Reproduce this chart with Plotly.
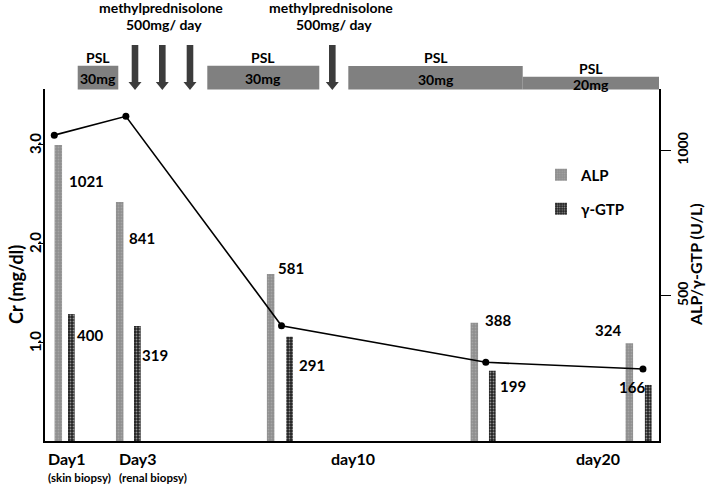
import plotly.graph_objects as go

# ---------------- data ----------------
# sample times on the schematic time axis (days)
alp_x = [1.0, 2.98, 7.85, 14.42, 19.42]
ggt_x = [1.42, 3.55, 8.46, 15.0, 20.03]
cr_x = [0.87, 3.18, 8.2, 14.79, 19.86]
# bar heights as drawn (U/L)
alp_bar = [1019, 823, 575, 407, 337]
ggt_bar = [437, 396, 359, 242, 193]
# printed values
alp_text = [1021, 841, 581, 388, 324]
ggt_text = [400, 319, 291, 199, 166]
# creatinine (mg/dl)
cr = [3.09, 3.28, 1.165, 0.795, 0.727]

x_labels = ["Day1", "Day3", "day10", "day20"]
x_sub = ["(skin biopsy)", "(renal biopsy)"]
cr_ticks = [1, 2, 3]
cr_tick_text = ["1.0", "2.0", "3.0"]
enz_ticks = [500, 1000]

# treatment timeline
psl_start = [1.626, 5.806, 10.355, 15.981]
psl_end = [2.935, 9.419, 15.981, 20.38]
psl_dose = ["30mg", "30mg", "30mg", "20mg"]
mpsl_days = [3.474, 4.355, 5.248, 9.839]

# ---------------- layout helpers ----------------
FONT = "Lato"
X0, X1 = 0.571, 20.377
PLOT_L, PLOT_R, PLOT_T, PLOT_B = 45, 659, 89, 441
H = PLOT_B - PLOT_T
W = PLOT_R - PLOT_L


def py(p):
    return (PLOT_B - p) / H


def px(p):
    return (p - PLOT_L) / W


def f(size, color="black"):
    return dict(family=FONT, size=size, color=color, weight=700)


fig = go.Figure()

fig.add_trace(go.Bar(
    x=alp_x, y=alp_bar, width=0.242, name="ALP", legend="legend",
    marker=dict(color="#929292", line=dict(width=0),
                pattern=dict(shape=".", bgcolor="#8e8e8e", fgcolor="#bcbcbc", size=3, solidity=0.3)),
    yaxis="y", showlegend=True))
fig.add_trace(go.Bar(
    x=ggt_x, y=ggt_bar, width=0.216, name="γ-GTP", legend="legend2",
    marker=dict(color="#303030", line=dict(width=0),
                pattern=dict(shape=".", bgcolor="#222222", fgcolor="#ffffff", size=3, solidity=0.3)),
    yaxis="y", showlegend=True))
fig.add_trace(go.Scatter(
    x=cr_x, y=cr, mode="lines+markers", yaxis="y2", showlegend=False,
    line=dict(color="black", width=1.6), marker=dict(color="black", size=7), cliponaxis=False))

ann = []
alp_shift = [(27.7, -35.7), (22.8, -36), (20.7, 6), (24, 2.7), (-21.2, 13)]
ggt_shift = [(18.4, -21), (17.4, -29), (22.8, -28.3), (20.5, -15.3), (-16.7, -1.7)]
for xs, ys, ts, sh in ((alp_x, alp_bar, alp_text, alp_shift), (ggt_x, ggt_bar, ggt_text, ggt_shift)):
    for xv, yv, tv, (dx, dy) in zip(xs, ys, ts, sh):
        ann.append(dict(x=xv, y=yv, xref="x", yref="y", text=str(tv), showarrow=False,
                        xshift=dx, yshift=dy, font=f(15)))

# left tick labels (rotated)
for tv, tt in zip(cr_ticks, cr_tick_text):
    ann.append(dict(x=px(35), y=tv, xref="paper", yref="y2", text=tt, textangle=-90,
                    showarrow=False, xanchor="center", yanchor="middle", font=f(15)))

# x-axis labels
lab_pos = [(0.603, "left"), (2.894, "left"), (10.52, "center"), (18.42, "center")]
for t, (xv, anc) in zip(x_labels, lab_pos):
    ann.append(dict(x=xv, y=py(458), xref="x", yref="paper", text=t, showarrow=False,
                    xanchor=anc, yanchor="middle", font=f(16)))
for t, xv in zip(x_sub, [0.603, 2.894]):
    ann.append(dict(x=xv, y=py(477), xref="x", yref="paper", text=t, showarrow=False,
                    xanchor="left", yanchor="middle", font=f(11.5)))

# axis titles
ann.append(dict(x=px(16), y=py(285), xref="paper", yref="paper", text="Cr (mg/dl)", textangle=-90,
                showarrow=False, xanchor="center", yanchor="middle", font=f(18)))
ann.append(dict(x=px(695), y=py(265), xref="paper", yref="paper",
                text="ALP/γ-GTP (U/L)", textangle=-90,
                showarrow=False, xanchor="center", yanchor="middle", font=f(16)))

# treatment annotations
shapes = []
box_top = [65.7, 65.7, 66, 76.7]
psl_lab_y = [58, 58, 58, 69]
dose_lab_y = [78, 78, 80, 84]
for s, e, d, bt, ly, dy in zip(psl_start, psl_end, psl_dose, box_top, psl_lab_y, dose_lab_y):
    shapes.append(dict(type="rect", xref="x", yref="paper", x0=s, x1=e, y0=py(89.5), y1=py(bt),
                       fillcolor="#808080", line=dict(width=0), layer="above"))
    xm = (s + e) / 2
    ann.append(dict(x=xm, y=py(ly), xref="x", yref="paper", text="PSL", showarrow=False,
                    yanchor="middle", font=f(14)))
    ann.append(dict(x=xm, y=py(dy), xref="x", yref="paper", text=d, showarrow=False,
                    yanchor="middle", font=f(14)))

px_day = (X1 - X0) / W
hw, HW = 3.3 * px_day, 6.5 * px_day
top, hs, tip = py(45), py(82), py(90)
for d in mpsl_days:
    path = (f"M{d-hw},{top} L{d+hw},{top} L{d+hw},{hs} L{d+HW},{hs} L{d},{tip} "
            f"L{d-HW},{hs} L{d-hw},{hs} Z")
    shapes.append(dict(type="path", xref="x", yref="paper", path=path,
                       fillcolor="#3c3c3c", line=dict(width=0), layer="above"))

for xm in [(mpsl_days[0] + mpsl_days[2]) / 2 - 0.05, 9.79]:
    ann.append(dict(x=xm, y=py(7), xref="x", yref="paper", text="methylprednisolone",
                    showarrow=False, yanchor="middle", font=f(14)))
    ann.append(dict(x=xm + 0.1, y=py(25), xref="x", yref="paper", text="500mg/ day",
                    showarrow=False, yanchor="middle", font=f(14)))

fig.update_layout(
    width=709, height=484,
    margin=dict(l=PLOT_L, r=709 - PLOT_R, t=PLOT_T, b=484 - PLOT_B, pad=0),
    paper_bgcolor="white", plot_bgcolor="white",
    font=dict(family=FONT, color="black"),
    barmode="overlay",
    xaxis=dict(range=[X0, X1], showline=True, linecolor="black", linewidth=1.5,
               showticklabels=False, ticks="", showgrid=False, zeroline=False),
    yaxis=dict(side="right", range=[0, 1212], showline=True, linecolor="black", linewidth=1.5,
               tickvals=enz_ticks, ticktext=[str(v) for v in enz_ticks], ticks="outside", ticklen=10,
               tickcolor="black", tickwidth=1.2, tickangle=-90, tickfont=f(14),
               showgrid=False, zeroline=False),
    yaxis2=dict(side="left", overlaying="y", range=[0, 3.556], showline=True, linecolor="black",
                linewidth=1.5, tickvals=cr_ticks, showticklabels=False, ticks="outside",
                ticklen=5, tickcolor="black", tickwidth=1.2,
                showgrid=False, zeroline=False),
    legend=dict(x=px(541), y=py(175), xanchor="left", yanchor="middle",
                font=f(15), bgcolor="rgba(0,0,0,0)"),
    legend2=dict(x=px(541), y=py(209), xanchor="left", yanchor="middle",
                 font=f(15), bgcolor="rgba(0,0,0,0)"),
    annotations=ann, shapes=shapes,
)

fig.write_html("out.html", config={"displayModeBar": False},
               post_script="document.body.style.margin='0';")
